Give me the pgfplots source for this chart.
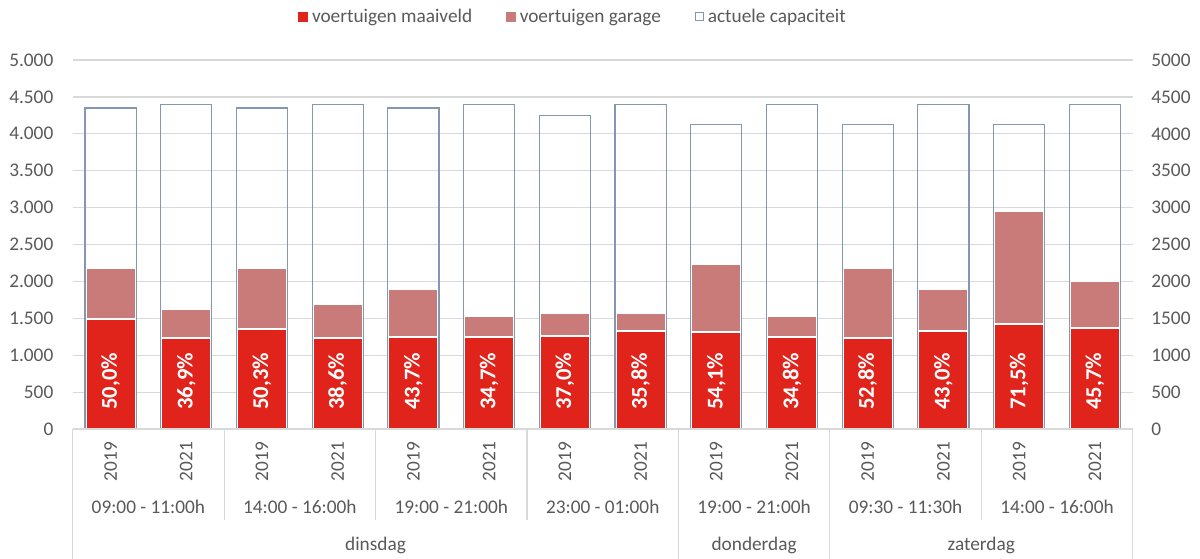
\documentclass[border=0pt]{standalone}
\usepackage{pgfplots}
\usepackage{pgfplotstable}
\pgfplotsset{compat=1.18}
\usepackage{fontspec}
\setmainfont{Carlito}
\definecolor{maai}{HTML}{E0231B}
\definecolor{gar}{HTML}{C97B79}
\definecolor{capcol}{HTML}{8497B0}
\definecolor{grd}{HTML}{D9D9D9}
\definecolor{txt}{HTML}{595959}
\newcommand{\fs}{\fontsize{9.65}{11.6}\selectfont}
\pgfplotstableread{
x m tot c b lab
0 1490 2175 4350 0 50,0\%
1 1229 1624 4400 0 36,9\%
2 1359 2188 4350 0 50,3\%
3 1237 1698 4400 0 38,6\%
4 1247 1901 4350 0 43,7\%
5 1247 1527 4400 0 34,7\%
6 1260 1573 4250 0 37,0\%
7 1332 1575 4400 0 35,8\%
8 1314 2234 4130 0 54,1\%
9 1251 1531 4400 0 34,8\%
10 1233 2181 4130 0 52,8\%
11 1324 1892 4400 0 43,0\%
12 1427 2953 4130 0 71,5\%
13 1373 2011 4400 0 45,7\%
}\data
\tikzset{sepline/.style={draw=grd, line width=0.6pt}, lbl/.style={font=\fs, text=txt, inner sep=0pt}}
\begin{document}
\begin{tikzpicture}
\useasboundingbox (-36.35pt,-64.5pt) rectangle (563.65pt,214.5pt);
\begin{axis}[
  at={(0pt,0pt)}, anchor=south west, scale only axis,
  width=530pt, height=184.5pt,
  xmin=-0.5, xmax=13.5, ymin=0, ymax=5000,
  axis line style={draw=none},
  ytick={0,500,...,5000},
  ymajorgrids, grid style={draw=grd, line width=0.6pt},
  major tick length=0pt,
  xtick={0,...,13},
  xticklabels={2019,2021,2019,2021,2019,2021,2019,2021,2019,2021,2019,2021,2019,2021},
  xticklabel style={rotate=90, anchor=east, inner sep=0pt, font=\fs, text=txt},
  xticklabel shift=6.35pt,
  yticklabel style={anchor=east, inner sep=0pt, font=\fs, text=txt},
  yticklabel shift=9.5pt,
  /pgf/number format/1000 sep={.},
  /pgf/number format/assume math mode=true,
  clip=false,
  legend columns=3,
  legend style={at={(0.473,1.1165)}, anchor=center, draw=none, fill=none, font=\fs, text=txt,
    inner sep=0pt, /tikz/every even column/.append style={column sep=15pt}},
  legend cell align=left,
]
\addplot[ybar, bar width=25pt, bar shift=0pt, fill=gar, draw=white, line width=1pt, forget plot] table[x=x, y=tot] {\data};
\addplot[ybar, bar width=25pt, bar shift=0pt, fill=maai, draw=white, line width=1pt, forget plot] table[x=x, y=m] {\data};
\addplot[ybar, bar width=25.6pt, bar shift=0pt, fill=none, draw=capcol, line width=0.6pt, forget plot] table[x=x, y=c] {\data};
\addplot[draw=none, mark=none, forget plot, nodes near coords, point meta=explicit symbolic,
  nodes near coords style={yshift=9.5pt, rotate=90, anchor=west, inner sep=0pt, text=white,
  font=\bfseries\fontsize{11.3}{13}\selectfont}] table[x=x, y=b, meta=lab] {\data};
\addlegendimage{legend image code/.code={\fill[maai] (0pt,-2.1pt) rectangle (4.4pt,2.3pt);}}
\addlegendentry{voertuigen maaiveld}
\addlegendimage{legend image code/.code={\fill[gar] (0pt,-2.1pt) rectangle (4.4pt,2.3pt);}}
\addlegendentry{voertuigen garage}
\addlegendimage{legend image code/.code={\draw[draw=capcol, line width=0.5pt] (0.25pt,-1.85pt) rectangle (4.15pt,2.05pt);}}
\addlegendentry{actuele capaciteit}
% category frame
\draw[sepline] (axis cs:-0.5,0) -- (axis cs:13.5,0);
\draw[sepline] (axis cs:-0.5,0) -- ([yshift=-66pt]axis cs:-0.5,0);
\draw[sepline] (axis cs:7.5,0) -- ([yshift=-66pt]axis cs:7.5,0);
\draw[sepline] (axis cs:9.5,0) -- ([yshift=-66pt]axis cs:9.5,0);
\draw[sepline] (axis cs:13.5,0) -- ([yshift=-66pt]axis cs:13.5,0);
\draw[sepline] (axis cs:1.5,0) -- ([yshift=-45.5pt]axis cs:1.5,0);
\draw[sepline] (axis cs:3.5,0) -- ([yshift=-45.5pt]axis cs:3.5,0);
\draw[sepline] (axis cs:5.5,0) -- ([yshift=-45.5pt]axis cs:5.5,0);
\draw[sepline] (axis cs:11.5,0) -- ([yshift=-45.5pt]axis cs:11.5,0);
\node[lbl] at ([yshift=-39pt]axis cs:0.5,0) {09:00 - 11:00h};
\node[lbl] at ([yshift=-39pt]axis cs:2.5,0) {14:00 - 16:00h};
\node[lbl] at ([yshift=-39pt]axis cs:4.5,0) {19:00 - 21:00h};
\node[lbl] at ([yshift=-39pt]axis cs:6.5,0) {23:00 - 01:00h};
\node[lbl] at ([yshift=-39pt]axis cs:8.5,0) {19:00 - 21:00h};
\node[lbl] at ([yshift=-39pt]axis cs:10.5,0) {09:30 - 11:30h};
\node[lbl] at ([yshift=-39pt]axis cs:12.5,0) {14:00 - 16:00h};
\node[lbl] at ([yshift=-58pt]axis cs:3.5,0) {dinsdag};
\node[lbl] at ([yshift=-58pt]axis cs:8.5,0) {donderdag};
\node[lbl] at ([yshift=-58pt]axis cs:11.5,0) {zaterdag};
\end{axis}
\begin{axis}[
  at={(0pt,0pt)}, anchor=south west, scale only axis,
  width=530pt, height=184.5pt,
  xmin=-0.5, xmax=13.5, ymin=0, ymax=5000,
  axis x line=none, axis y line*=right,
  axis line style={draw=none},
  ytick={0,500,...,5000},
  major tick length=0pt,
  yticklabel style={anchor=west, inner sep=0pt, font=\fs, text=txt},
  yticklabel shift=9.15pt,
  /pgf/number format/1000 sep={},
  /pgf/number format/assume math mode=true,
]
\end{axis}
\end{tikzpicture}
\end{document}
